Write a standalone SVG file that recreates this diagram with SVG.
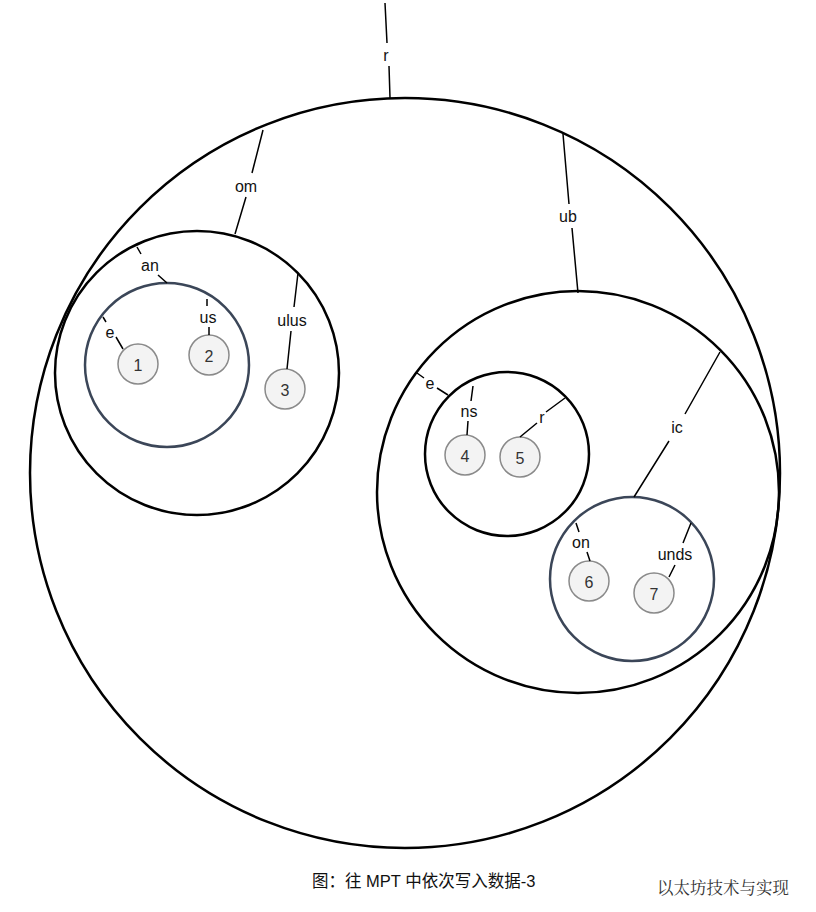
<svg xmlns="http://www.w3.org/2000/svg" width="816" height="912" viewBox="0 0 816 912">
<style>
.ring{fill:none;stroke:#000;stroke-width:2.5}
.blue{fill:none;stroke:#3b4658;stroke-width:2.5}
.leaf{fill:#f3f3f3;stroke:#8a8a8a;stroke-width:1.5}
.num{font-family:"Liberation Sans",Arial,sans-serif;font-size:16px;fill:#333;text-anchor:middle;dominant-baseline:central}
.lbl{font-family:"Liberation Sans",Arial,sans-serif;font-size:16px;fill:#111;text-anchor:middle;dominant-baseline:central}
.edge{fill:none;stroke:#000;stroke-width:1.5}
</style>
<rect width="816" height="912" fill="#fff"/>
<g id="root"><circle class="ring" cx="405" cy="473" r="375"/></g>
<g id="n-om"><circle class="ring" cx="197" cy="373" r="142"/></g>
<g id="n-an"><circle class="blue" cx="167" cy="365" r="82"/></g>
<g id="n-ub"><circle class="ring" cx="578" cy="492" r="201"/></g>
<g id="n-e"><circle class="ring" cx="507" cy="454" r="82"/></g>
<g id="n-ic"><circle class="blue" cx="632" cy="579" r="82"/></g>
<g id="leaf1"><circle class="leaf" cx="138" cy="364" r="20"/><text class="num" x="138" y="365">1</text></g>
<g id="leaf2"><circle class="leaf" cx="209" cy="355" r="20"/><text class="num" x="209" y="356">2</text></g>
<g id="leaf3"><circle class="leaf" cx="285" cy="389" r="20"/><text class="num" x="285" y="390">3</text></g>
<g id="leaf4"><circle class="leaf" cx="465" cy="455" r="20"/><text class="num" x="465" y="456">4</text></g>
<g id="leaf5"><circle class="leaf" cx="520" cy="457" r="20"/><text class="num" x="520" y="458">5</text></g>
<g id="leaf6"><circle class="leaf" cx="589" cy="581" r="20"/><text class="num" x="589" y="582">6</text></g>
<g id="leaf7"><circle class="leaf" cx="654" cy="593" r="20"/><text class="num" x="654" y="594">7</text></g>
<g id="connectors">
<path class="edge" d="M385,3 L387,43 M389,66 L390,98"/>
<path class="edge" d="M263,130 L252,173 M246,197 L235,234"/>
<path class="edge" d="M563,134 L569,204 M572,228 L578,293"/>
<path class="edge" d="M137,247 L141,254 M158,275 L167,283"/>
<path class="edge" d="M103,317 L106,322 M116,337 L123,349"/>
<path class="edge" d="M207,299 L207,306 M209,327 L209,335"/>
<path class="edge" d="M298,273 L294,307 M291,331 L287,369"/>
<path class="edge" d="M417,373 L424,378 M437,388 L448,395"/>
<path class="edge" d="M473,386 L471,401 M468,421 L467,435"/>
<path class="edge" d="M565,398 L546,412 M537,423 L520,437"/>
<path class="edge" d="M720,352 L685,414 M669,441 L634,497"/>
<path class="edge" d="M576,523 L579,532 M587,552 L590,561"/>
<path class="edge" d="M691,523 L683,543 M675,565 L669,577"/>
<text class="lbl" x="386" y="55">r</text>
<text class="lbl" x="246" y="186">om</text>
<text class="lbl" x="568" y="216">ub</text>
<text class="lbl" x="150" y="265">an</text>
<text class="lbl" x="110" y="332">e</text>
<text class="lbl" x="208" y="317">us</text>
<text class="lbl" x="292" y="320">ulus</text>
<text class="lbl" x="430" y="383">e</text>
<text class="lbl" x="469" y="411">ns</text>
<text class="lbl" x="542" y="417">r</text>
<text class="lbl" x="677" y="427">ic</text>
<text class="lbl" x="581" y="542">on</text>
<text class="lbl" x="675" y="554">unds</text>
</g>
<text x="312" y="887" font-family="'Liberation Sans','Noto Sans CJK SC',sans-serif" font-size="16.5" fill="#111">图：往 MPT 中依次写入数据-3</text>
<text x="657" y="894" font-family="'Liberation Serif','Noto Serif CJK SC','Noto Sans CJK SC',serif" font-size="16.5" fill="#333">以太坊技术与实现</text>
</svg>
